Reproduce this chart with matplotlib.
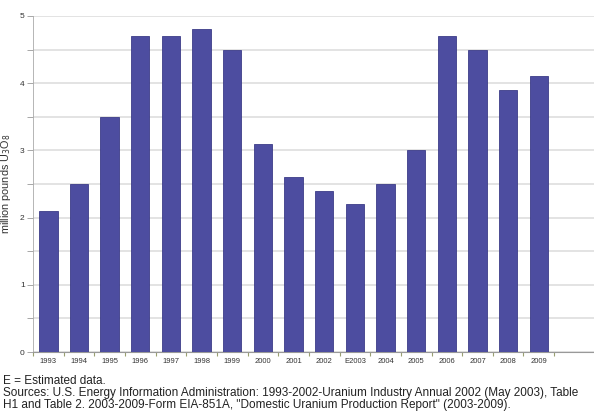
import matplotlib.pyplot as plt
import numpy as np

# data
years = ['1993', '1994', '1995', '1996', '1997', '1998', '1999', '2000', '2001',
         '2002', 'E2003', '2004', '2005', '2006', '2007', '2008', '2009']
production = [2.1, 2.5, 3.5, 4.7, 4.7, 4.8, 4.5, 3.1, 2.6,
              2.4, 2.2, 2.5, 3.0, 4.7, 4.5, 3.9, 4.1]
y_ticks = [0, 1, 2, 3, 4, 5]

plt.rcParams['font.family'] = ['Liberation Sans', 'DejaVu Sans']

fig = plt.figure(figsize=(5.94, 4.15), dpi=100)
ax = fig.add_axes([33 / 594, 63 / 415, 561 / 594, 336 / 415])

x = np.arange(len(years))
ax.bar(x, production, width=0.6, color='#4d4da0', edgecolor='#3c3c88', linewidth=0.6, zorder=3)

# grid at every half unit
ax.set_ylim(0, 5)
ax.set_xlim(-0.5, 17.8)
ax.set_yticks(y_ticks)
ax.set_yticks(np.arange(0.5, 5, 1), minor=True)
ax.grid(axis='y', which='both', color='#e0e0e0', linewidth=1.3, zorder=0)
ax.set_yticklabels([str(v) for v in y_ticks], fontsize=6, color='#333333')
ax.tick_params(axis='y', which='both', length=4, width=0.6, color='#999999', pad=2)

ax.set_xticks(x)
ax.set_xticklabels(years, fontsize=5.5, color='#333333')
ax.set_xticks(np.arange(-0.5, 17, 1), minor=True)
ax.tick_params(axis='x', which='major', length=0, pad=4)
ax.tick_params(axis='x', which='minor', length=3, width=0.8, color='#9aa070')

for s in ['top', 'right']:
    ax.spines[s].set_visible(False)
ax.spines['left'].set_color('#aaaaaa')
ax.spines['bottom'].set_color('#999999')
ax.spines['left'].set_linewidth(0.6)

ax.set_ylabel('million pounds U$_3$O$_8$', fontsize=7.8, color='#333333')
ax.yaxis.set_label_coords(-0.036, 0.5)

# footnotes
note_size = 8.5
fig.text(3 / 594, 1 - 381 / 415, 'E = Estimated data.', fontsize=note_size, va='center', color='#222222')
fig.text(3 / 594, 1 - 393 / 415,
         'Sources: U.S. Energy Information Administration: 1993-2002-Uranium Industry Annual 2002 (May 2003), Table',
         fontsize=note_size, va='center', color='#222222')
fig.text(3 / 594, 1 - 405 / 415,
         'H1 and Table 2. 2003-2009-Form EIA-851A, "Domestic Uranium Production Report" (2003-2009).',
         fontsize=note_size, va='center', color='#222222')

fig.savefig('out.png', dpi=100)
